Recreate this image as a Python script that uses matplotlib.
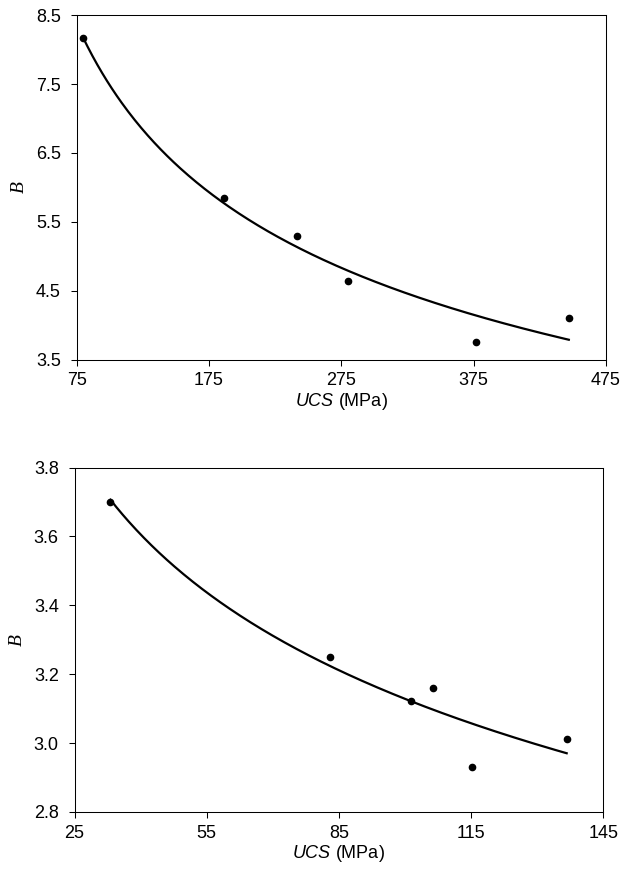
import numpy as np
import matplotlib
matplotlib.use("Agg")
import matplotlib.pyplot as plt

# Top panel data
ucs_top = [79.5, 186.7, 241.6, 280.0, 376.9, 446.9]
b_top = [8.165, 5.85, 5.296, 4.646, 3.748, 4.097]
xticks_top = [75, 175, 275, 375, 475]
yticks_top = [3.5, 4.5, 5.5, 6.5, 7.5, 8.5]

# Bottom panel data
ucs_bot = [33.15, 82.97, 101.3, 106.4, 115.1, 136.7]
b_bot = [3.701, 3.251, 3.122, 3.161, 2.931, 3.011]
xticks_bot = [25, 55, 85, 115, 145]
yticks_bot = [2.8, 3.0, 3.2, 3.4, 3.6, 3.8]

plt.rcParams['font.family'] = ['Liberation Sans', 'DejaVu Sans']
plt.rcParams['mathtext.fontset'] = 'custom'
plt.rcParams['mathtext.it'] = 'Liberation Sans:italic'
plt.rcParams['mathtext.rm'] = 'Liberation Sans'

fig = plt.figure(figsize=(6.25, 8.69), dpi=100)
ax1 = fig.add_axes([0.1227, 0.5863, 0.8469, 0.3961])
ax2 = fig.add_axes([0.1192, 0.0656, 0.846, 0.3964])


def power_fit(xs, ys):
    # least squares y = c + a * x**b (linear in a, c for each b)
    best = None
    for b in np.linspace(-1.5, -0.05, 2901):
        A = np.column_stack([xs ** b, np.ones_like(xs)])
        coef, *_ = np.linalg.lstsq(A, ys, rcond=None)
        err = np.sum((ys - A @ coef) ** 2)
        if best is None or err < best[0]:
            best = (err, coef[0], b, coef[1])
    return best[1], best[2], best[3]


def panel(ax, xs, ys, xticks, yticks, yfmt):
    xs = np.asarray(xs, float)
    ys = np.asarray(ys, float)
    a, b, c = power_fit(xs, ys)
    xf = np.linspace(xs.min(), xs.max(), 300)
    yf = c + a * xf ** b
    ax.plot(xf, yf, color='black', lw=1.6, zorder=2)
    ax.plot(xs, ys, 'o', color='black', markersize=4.5, zorder=3)
    ax.set_xlim(xticks[0], xticks[-1])
    ax.set_ylim(yticks[0], yticks[-1])
    ax.set_xticks(xticks)
    ax.set_yticks(yticks)
    ax.set_xticklabels([str(t) for t in xticks])
    ax.set_yticklabels([yfmt.format(t) for t in yticks])
    ax.tick_params(axis='both', direction='out', length=4.3, width=0.75,
                   labelsize=13, colors='black')
    ax.tick_params(axis='x', pad=5)
    ax.tick_params(axis='y', pad=7)
    for s in ax.spines.values():
        s.set_linewidth(0.75)
        s.set_color('black')
    ax.set_xlabel(r'$\mathit{UCS}$ (MPa)', fontsize=13, labelpad=1)
    ax.set_ylabel('B', fontsize=14, family='Liberation Serif',
                  style='italic', labelpad=6)


panel(ax1, ucs_top, b_top, xticks_top, yticks_top, '{:.1f}')
panel(ax2, ucs_bot, b_bot, xticks_bot, yticks_bot, '{:.1f}')

fig.savefig('out.png', dpi=100)
